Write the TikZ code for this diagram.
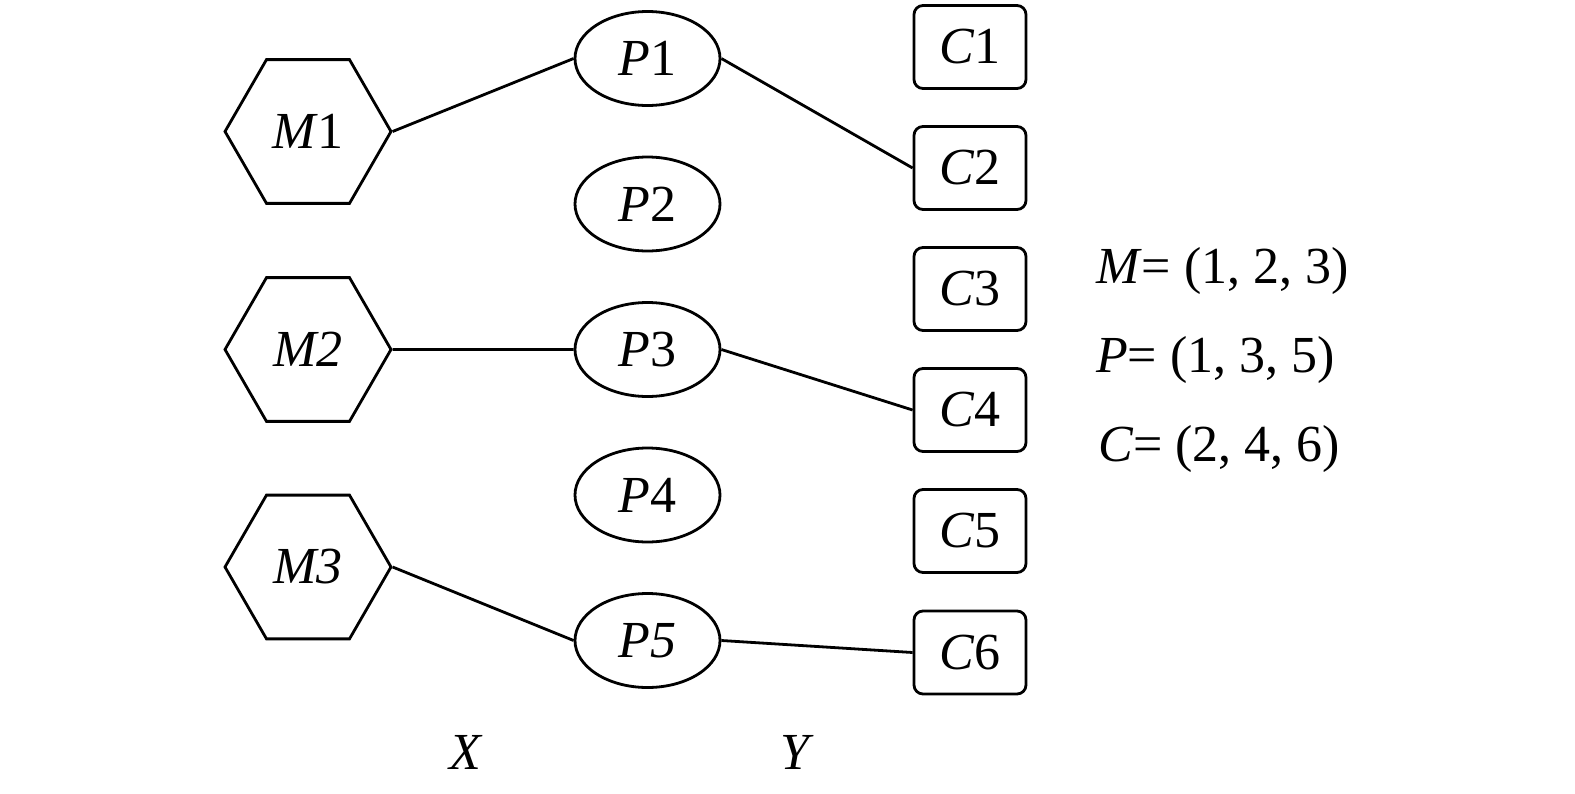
\documentclass[tikz,border=0pt]{standalone}
\usepackage{fontspec}
\setmainfont{Liberation Serif}
\usetikzlibrary{shapes.geometric}
\begin{document}
\begin{tikzpicture}[x=1pt,y=-1pt,
  every node/.style={font=\fontsize{52}{62}\selectfont},
  hexnode/.style={draw,line width=2.8pt,regular polygon,regular polygon sides=6,minimum size=166pt,inner sep=0pt},
  pnode/.style={draw,line width=2.8pt,ellipse,minimum width=145pt,minimum height=94pt,inner sep=0pt},
  cnode/.style={draw,line width=2.8pt,rectangle,rounded corners=9pt,minimum width=112pt,minimum height=83pt,inner sep=0pt},
  link/.style={line width=2.8pt},
  plain/.style={inner sep=0pt,anchor=base west}]
\useasboundingbox (0,0) rectangle (1575,793);
% M nodes
\node[hexnode] (M1) at (308,131.5) {\textit{M}1};
\node[hexnode] (M2) at (308,349.5) {\textit{M2}};
\node[hexnode] (M3) at (308,567) {\textit{M3}};
% P nodes
\node[pnode] (P1) at (647.5,58.5) {\textit{P}1};
\node[pnode] (P2) at (647.5,204) {\textit{P}2};
\node[pnode] (P3) at (647.5,349.5) {\textit{P}3};
\node[pnode] (P4) at (647.5,495) {\textit{P}4};
\node[pnode] (P5) at (647.5,640.5) {\textit{P5}};
% C nodes
\node[cnode] (C1) at (970,47) {\textit{C}1};
\node[cnode] (C2) at (970,168) {\textit{C}2};
\node[cnode] (C3) at (970,289) {\textit{C}3};
\node[cnode] (C4) at (970,410) {\textit{C}4};
\node[cnode] (C5) at (970,531) {\textit{C}5};
\node[cnode] (C6) at (970,652.5) {\textit{C}6};
% connectors
\draw[link] (M1.east) -- (P1.west);
\draw[link] (P1.east) -- (C2.west);
\draw[link] (M2.east) -- (P3.west);
\draw[link] (P3.east) -- (C4.west);
\draw[link] (M3.east) -- (P5.west);
\draw[link] (P5.east) -- (C6.west);
% axis labels
\node[inner sep=0pt] (X) at (466,752) {\textit{X}};
\node[inner sep=0pt] (Y) at (797,752) {\textit{Y}};
% sets
\node[plain] (Mset) at (1096,283) {\textit{M}= (1, 2, 3)};
\node[plain] (Pset) at (1096,372) {\textit{P}= (1, 3, 5)};
\node[plain] (Cset) at (1098,461) {\textit{C}= (2, 4, 6)};
\end{tikzpicture}
\end{document}
